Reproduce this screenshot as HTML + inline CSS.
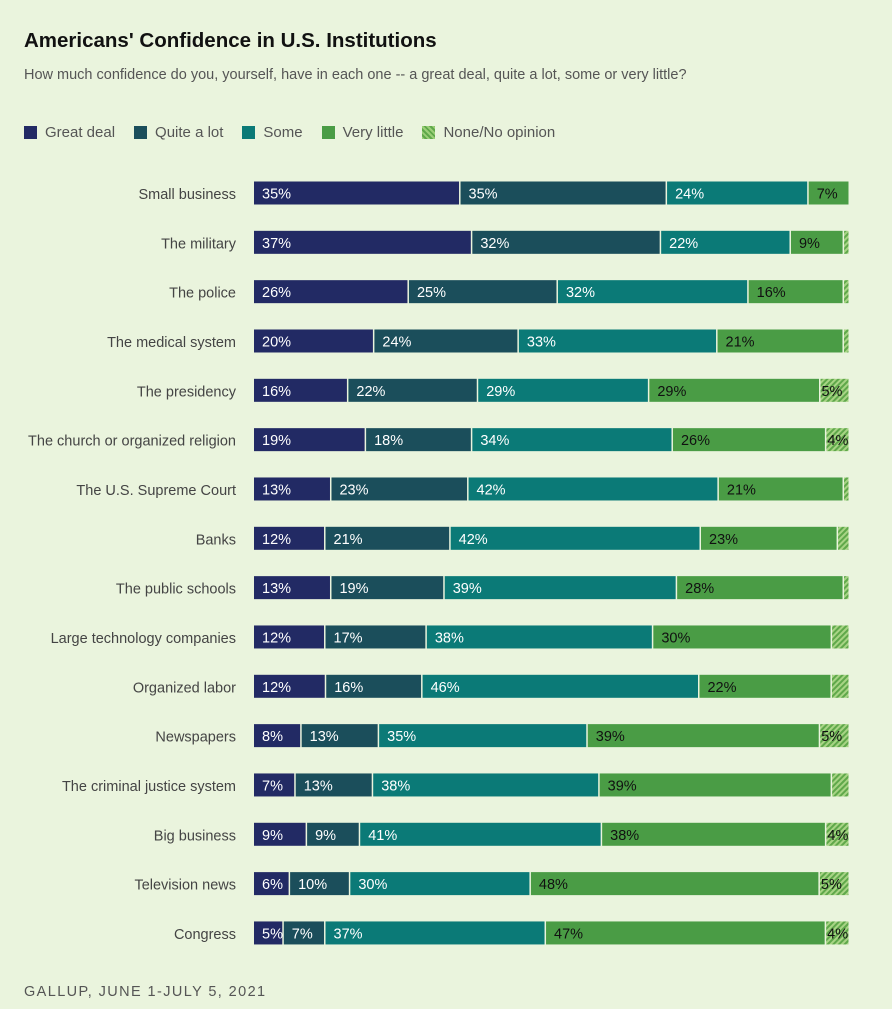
<!DOCTYPE html>
<html><head><meta charset="utf-8"><style>
body{margin:0;background:#eaf4dd;font-family:"Liberation Sans",sans-serif;}
#wrap{position:relative;width:892px;height:1009px;overflow:hidden;}
h1{position:absolute;left:24px;top:29px;margin:0;font-size:20.5px;font-weight:bold;color:#111;}
.sub{position:absolute;left:24px;top:67px;font-size:14.5px;color:#555;}
.legend{position:absolute;top:124px;left:24px;font-size:15px;color:#555;display:flex;}
.li{display:flex;align-items:center;margin-right:19px}
.sw{width:13px;height:13px;margin-right:8px}
.src{position:absolute;left:24px;top:984px;font-size:14.5px;color:#555;letter-spacing:1.4px}
</style></head><body><div id="wrap">
<h1>Americans' Confidence in U.S. Institutions</h1>
<div class="sub">How much confidence do you, yourself, have in each one -- a great deal, quite a lot, some or very little?</div>
<div class="legend">
<div class="li"><div class="sw" style="background:#222a64"></div>Great deal</div>
<div class="li"><div class="sw" style="background:#1b4e5b"></div>Quite a lot</div>
<div class="li"><div class="sw" style="background:#0b7a77"></div>Some</div>
<div class="li"><div class="sw" style="background:#4a9c45"></div>Very little</div>
<div class="li"><div class="sw" style="background:repeating-linear-gradient(45deg,#9ccf78 0 2px,#5fa84a 2px 4px)"></div>None/No opinion</div>
</div>
<svg id="svg" width="892" height="1009" style="position:absolute;left:0;top:0">
<defs>
<pattern id="hatch" width="4" height="4" patternUnits="userSpaceOnUse" patternTransform="rotate(45)"><rect width="4" height="4" fill="#a8d485"/><rect width="2" height="4" fill="#5fa84a"/></pattern>
</defs>
</svg>
<div class="src">GALLUP, JUNE 1-JULY 5, 2021</div>
</div>
<script>
const categories=["Small business","The military","The police","The medical system","The presidency","The church or organized religion","The U.S. Supreme Court","Banks","The public schools","Large technology companies","Organized labor","Newspapers","The criminal justice system","Big business","Television news","Congress"];
const greatDeal=[35,37,26,20,16,19,13,12,13,12,12,8,7,9,6,5];
const quiteALot=[35,32,25,24,22,18,23,21,19,17,16,13,13,9,10,7];
const some=[24,22,32,33,29,34,42,42,39,38,46,35,38,41,30,37];
const veryLittle=[7,9,16,21,29,26,21,23,28,30,22,39,39,38,48,47];
const noneOpinion=[0,1,1,1,5,4,1,2,1,3,3,5,3,4,5,4];
const showNone=[false,false,false,false,true,true,false,false,false,false,false,true,false,true,true,true];
const series=[greatDeal,quiteALot,some,veryLittle,noneOpinion];
const fills=["#222a64","#1b4e5b","#0b7a77","#4a9c45","url(#hatch)"];
const txt=["#fff","#fff","#fff","#111","#111"];
const svg=document.getElementById('svg');
const NS="http://www.w3.org/2000/svg";
const x0=254,x1=850,barH=23;
function yPos(i){return 181.5+i*49.33;}
function xScale(v,total){return v/total*(x1-x0);}
categories.forEach((c,i)=>{
  const y=yPos(i);
  const lab=document.createElementNS(NS,'text');
  lab.setAttribute('x',236);lab.setAttribute('y',y+barH/2+6);
  lab.setAttribute('text-anchor','end');lab.setAttribute('font-size','14.5');lab.setAttribute('fill','#444');
  lab.textContent=c;
  
  
  svg.appendChild(lab);
  const total=series.reduce((s,a)=>s+a[i],0);
  let x=x0;
  series.forEach((a,k)=>{
    const v=a[i];if(!v)return;
    const w=xScale(v,total);
    const r=document.createElementNS(NS,'rect');
    r.setAttribute('x',x);r.setAttribute('y',y);r.setAttribute('width',Math.max(w-1.5,1));r.setAttribute('height',barH);
    r.setAttribute('fill',fills[k]);
    
    
    svg.appendChild(r);
    if(k<4||showNone[i]){
      const t=document.createElementNS(NS,'text');
      t.setAttribute('x',x+(k==4?1:8));t.setAttribute('y',y+barH/2+5.5);
      t.setAttribute('font-size','14.5');t.setAttribute('fill',txt[k]);
      t.textContent=v+'%';
      
      
      svg.appendChild(t);
    }
    x+=w;
  });
});
</script>
</body></html>
